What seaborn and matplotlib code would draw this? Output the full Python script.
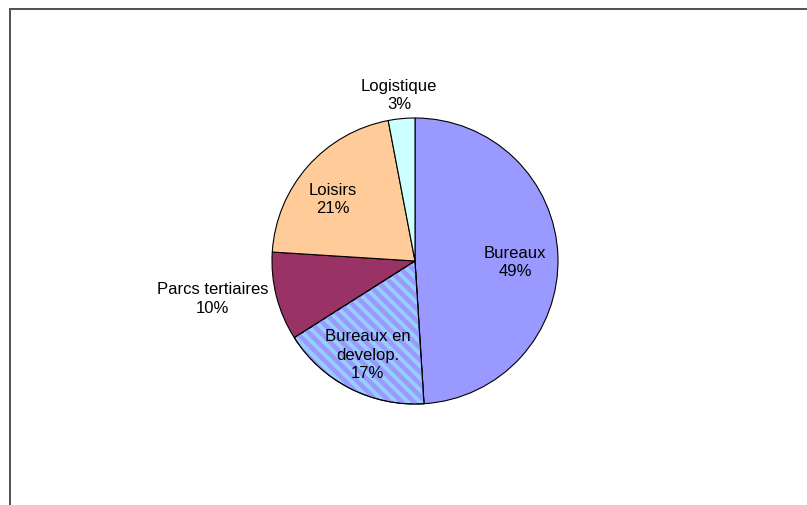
import matplotlib
matplotlib.use('Agg')
import matplotlib.pyplot as plt
from matplotlib.patches import Rectangle, Wedge
import seaborn as sns
import numpy as np

# Données du camembert
categories = ['Bureaux', 'Bureaux en\ndevelop.', 'Parcs tertiaires', 'Loisirs', 'Logistique']
valeurs = [49, 17, 10, 21, 3]
couleurs = ['#9999FF', '#99CCFF', '#993366', '#FFCC99', '#CCFFFF']

# placement des étiquettes : distance (en rayons) et décalage angulaire (degrés)
dist_labels = [0.70, 0.73, 1.44, 0.72, 1.17]
decal_labels = [-2, 0, -4, 4, 0]

sns.set_theme(style='white')
plt.rcParams['font.family'] = ['Liberation Sans', 'DejaVu Sans']

fig = plt.figure(figsize=(8.07, 5.06), dpi=100)
ax = fig.add_axes([0, 0, 1, 1])

centre = (415, 244)
rayon = 143

wedges, _ = ax.pie(valeurs, colors=sns.color_palette(couleurs), startangle=90,
                   counterclock=False, center=centre, radius=rayon, frame=True,
                   wedgeprops=dict(edgecolor='black', linewidth=0.8))

# rayures diagonales pour "Bureaux en develop." (découpées par la part)
w = wedges[1]
clip = Wedge(w.center, w.r, w.theta1, w.theta2, facecolor='none', edgecolor='none')
ax.add_patch(clip)
pas = 12
for x0 in np.arange(centre[0] - 2 * rayon, centre[0] + 2 * rayon, pas):
    ligne, = ax.plot([x0 - rayon, x0 + rayon], [centre[1] + rayon, centre[1] - rayon],
                     color='#9999FF', lw=3.2, solid_capstyle='butt',
                     zorder=w.get_zorder() + 0.1)
    ligne.set_clip_path(clip)
contour = Wedge(w.center, w.r, w.theta1, w.theta2, fill=False,
                edgecolor='black', linewidth=0.8, zorder=w.get_zorder() + 0.2)
ax.add_patch(contour)

# étiquettes
for wd, cat, val, d, da in zip(wedges, categories, valeurs, dist_labels, decal_labels):
    ang = np.deg2rad((wd.theta1 + wd.theta2) / 2 + da)
    x = centre[0] + d * rayon * np.cos(ang)
    y = centre[1] + d * rayon * np.sin(ang)
    ax.text(x, y, f'{cat}\n{val}%', ha='center', va='center', fontsize=12,
            linespacing=1.3, color='black', zorder=10)

# cadre
ax.add_patch(Rectangle((10, -20), 820, 516, fill=False, edgecolor='#505050',
                       linewidth=1.4, clip_on=False, zorder=20))

ax.set_xlim(0, 807)
ax.set_ylim(0, 506)
ax.set_aspect('auto')
ax.axis('off')

plt.savefig('out.png', dpi=100, facecolor='white')
